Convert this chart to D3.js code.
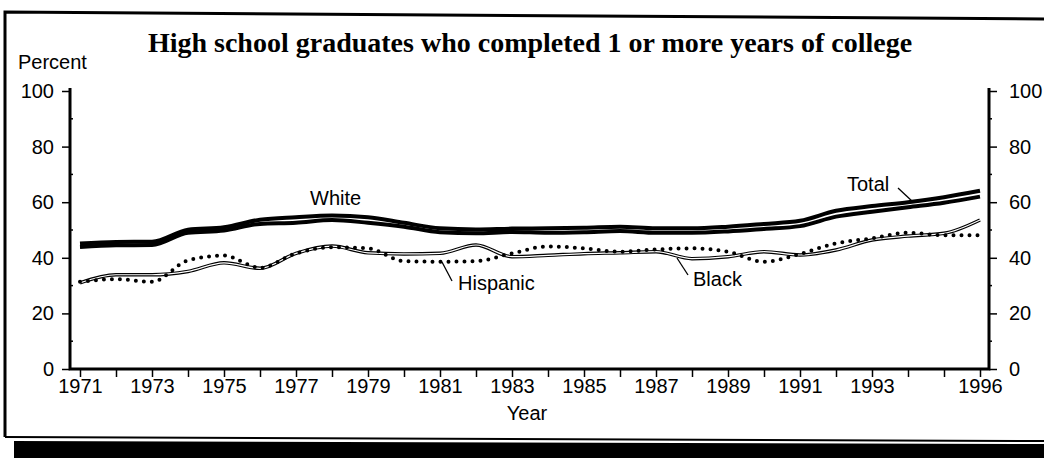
<!DOCTYPE html>
<html><head><meta charset="utf-8">
<script src="https://cdn.jsdelivr.net/npm/d3@7"></script>
<style>body{margin:0;background:#fff;} svg{display:block;}</style>
</head><body>
<svg id="c" width="1044" height="458"></svg>
<script>
const years = d3.range(1971, 1997);
const tickLabelYears = [1971,1973,1975,1977,1979,1981,1983,1985,1987,1989,1991,1993,1996];
const yTicks = [0,20,40,60,80,100];
const white    = [45.1,45.7,45.8,50.1,51.0,53.7,54.6,55.2,54.6,52.6,50.6,50.2,50.5,50.6,50.8,51.2,50.6,50.6,51.2,52.2,53.3,56.9,58.6,60.0,61.8,64.1];
const total    = [43.9,44.5,44.6,49.0,49.8,52.2,52.6,53.6,52.6,51.2,49.2,48.8,49.3,49.0,49.2,49.6,49.0,49.0,49.5,50.4,51.4,54.8,56.6,58.2,59.8,62.0];
const black    = [31.0,33.9,33.9,35.1,38.2,36.2,41.6,44.2,41.8,41.4,41.6,44.6,40.4,40.9,41.5,41.8,42.2,39.7,40.4,42.2,41.0,42.8,46.4,47.8,48.8,53.6];
const hispanic = [31.4,32.3,31.4,39.1,40.8,36.4,41.6,43.8,43.4,38.8,38.6,38.8,41.6,44.1,43.4,42.2,43.0,43.4,42.2,38.6,41.4,45.2,47.0,49.0,48.1,48.1];

const svg = d3.select("#c");
const sans = "'Liberation Sans', Arial, sans-serif";
const fs = 20;
const x = d3.scaleLinear().domain([1971,1996]).range([80,980]);
const y = d3.scaleLinear().domain([0,100]).range([369,91]);

// outer frame
svg.append("path").attr("d","M5,437 L5,12 L1044,19").attr("fill","none").attr("stroke","#000").attr("stroke-width",3);
svg.append("path").attr("d","M5,437 L1044,441").attr("fill","none").attr("stroke","#000").attr("stroke-width",2);
svg.append("path").attr("d","M14,441 L1044,444 L1044,458 L14,458 Z").attr("fill","#000");

// title
svg.append("text").attr("x",530).attr("y",52).attr("text-anchor","middle")
  .attr("font-family","'Liberation Serif','Times New Roman',serif").attr("font-weight","bold")
  .attr("font-size",28).text("High school graduates who completed 1 or more years of college");
svg.append("text").attr("x",18).attr("y",69).attr("font-family",sans).attr("font-size",fs).text("Percent");

// axes
const gL = svg.append("g").attr("transform","translate(70,0)")
  .call(d3.axisLeft(y).tickValues(yTicks).tickSize(8).tickPadding(8));
const gR = svg.append("g").attr("transform","translate(989,0)")
  .call(d3.axisRight(y).tickValues(yTicks).tickSize(8).tickPadding(12));
const gB = svg.append("g").attr("transform","translate(0,369)")
  .call(d3.axisBottom(x).tickValues(years).tickSize(8).tickPadding(2)
    .tickFormat(d => tickLabelYears.includes(d) ? String(d) : ""));
[gL,gR,gB].forEach(g => {
  g.select(".domain").remove();
  g.selectAll("text").attr("font-family",sans).attr("font-size",fs).attr("fill","#000");
  g.selectAll("line").attr("stroke","#000").attr("stroke-width",1.5);
});
// minor ticks
const minor = [10,30,50,70,90];
svg.append("g").selectAll("line").data(minor).join("line")
  .attr("x1",70).attr("x2",73).attr("y1",d=>y(d)).attr("y2",d=>y(d)).attr("stroke","#000").attr("stroke-width",1.5);
svg.append("g").selectAll("line").data(minor).join("line")
  .attr("x1",989).attr("x2",992).attr("y1",d=>y(d)).attr("y2",d=>y(d)).attr("stroke","#000").attr("stroke-width",1.5);
// axis lines
svg.append("path").attr("d",`M70,${y(100)-3} L70,${y(0)} L989,${y(0)} L989,${y(100)-3}`)
  .attr("fill","none").attr("stroke","#000").attr("stroke-width",3);

svg.append("text").attr("x",527).attr("y",420).attr("text-anchor","middle")
  .attr("font-family",sans).attr("font-size",fs).text("Year");

// lines
const line = d3.line().x((d,i)=>x(years[i])).y(d=>y(d)).curve(d3.curveMonotoneX);
const gLines = svg.append("g").attr("fill","none");
gLines.append("path").attr("d",line(black)).attr("stroke","#000").attr("stroke-width",3.5);
gLines.append("path").attr("d",line(black)).attr("stroke","#fff").attr("stroke-width",1.2);
gLines.append("path").attr("d",line(hispanic)).attr("stroke","#000").attr("stroke-width",4)
  .attr("stroke-linecap","round").attr("stroke-dasharray","0 8");
gLines.append("path").attr("d",line(total)).attr("stroke","#000").attr("stroke-width",4);
gLines.append("path").attr("d",line(white)).attr("stroke","#000").attr("stroke-width",4);

// labels
const lab = [
  {t:"White", x:310, y:205},
  {t:"Total", x:847, y:191},
  {t:"Hispanic", x:458, y:290},
  {t:"Black", x:693, y:286}
];
svg.append("g").selectAll("text").data(lab).join("text")
  .attr("x",d=>d.x).attr("y",d=>d.y).attr("font-family",sans).attr("font-size",fs).text(d=>d.t);
const ptr = [
  [898,188,913,202],
  [442,262,452,281],
  [677,258,688,275]
];
svg.append("g").selectAll("line").data(ptr).join("line")
  .attr("x1",d=>d[0]).attr("y1",d=>d[1]).attr("x2",d=>d[2]).attr("y2",d=>d[3])
  .attr("stroke","#000").attr("stroke-width",1.3);
</script>
</body></html>
